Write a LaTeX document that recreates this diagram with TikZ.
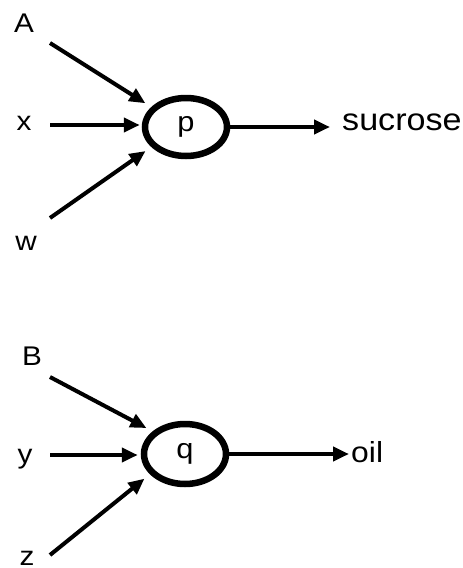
\documentclass[tikz,border=0pt]{standalone}
\usepackage{fontspec}
\setmainfont[FakeStretch=1.1]{Liberation Sans}
\usetikzlibrary{arrows.meta,shapes.geometric}
\begin{document}
\begin{tikzpicture}[x=1pt,y=-1pt,
 lbl/.style={inner sep=0pt,font=\fontsize{27}{27}\selectfont},
 outlbl/.style={inner sep=0pt,font=\fontsize{31}{31}\selectfont},
 cell/.style={ellipse,draw,line width=6.5pt,minimum width=82pt,minimum height=58pt,inner sep=0pt,font=\fontsize{28}{28}\selectfont},
 arr/.style={line width=4pt,-{Triangle[length=16pt,width=14pt]}}]
\useasboundingbox (0,0) rectangle (463,568);
% top unit
\node[cell] (p) at (186,127) {p};
\node[lbl] (A) at (24,23) {A};
\node[lbl,anchor=base] (x) at (24,130) {x};
\node[lbl,anchor=base] (w) at (26,250) {w};
\node[outlbl,anchor=base west] (suc) at (342,130) {sucrose};
\coordinate (sA) at (50,43);
\coordinate (sx) at (50,125);
\coordinate (sw) at (50,218);
\draw[arr,shorten >=7pt] (sA) -- (p.150);
\draw[arr,shorten >=2pt] (sx) -- (sx -| p.west);
\draw[arr,shorten >=7pt] (sw) -- (p.210);
\draw[arr,shorten >=12pt] (p.east) -- (p.east -| suc.west);
% bottom unit
\node[cell,minimum height=60pt] (q) at (185,454) {q};
\node[lbl,anchor=base] (B) at (32,365) {B};
\node[lbl,anchor=base] (y) at (25,463) {y};
\node[lbl,anchor=base] (z) at (27,565) {z};
\node[outlbl,anchor=base west,font=\fontsize{29}{29}\selectfont] (oil) at (351,462) {oil};
\coordinate (sB) at (50,377);
\coordinate (sy) at (50,455);
\coordinate (sz) at (50,555);
\draw[arr,shorten >=7pt] (sB) -- (q.145);
\draw[arr,shorten >=3pt] (sy) -- (sy -| q.west);
\draw[arr,shorten >=7pt] (sz) -- (q.210);
\draw[arr,shorten >=2pt] (q.east) -- (q.east -| oil.west);
\end{tikzpicture}
\end{document}
